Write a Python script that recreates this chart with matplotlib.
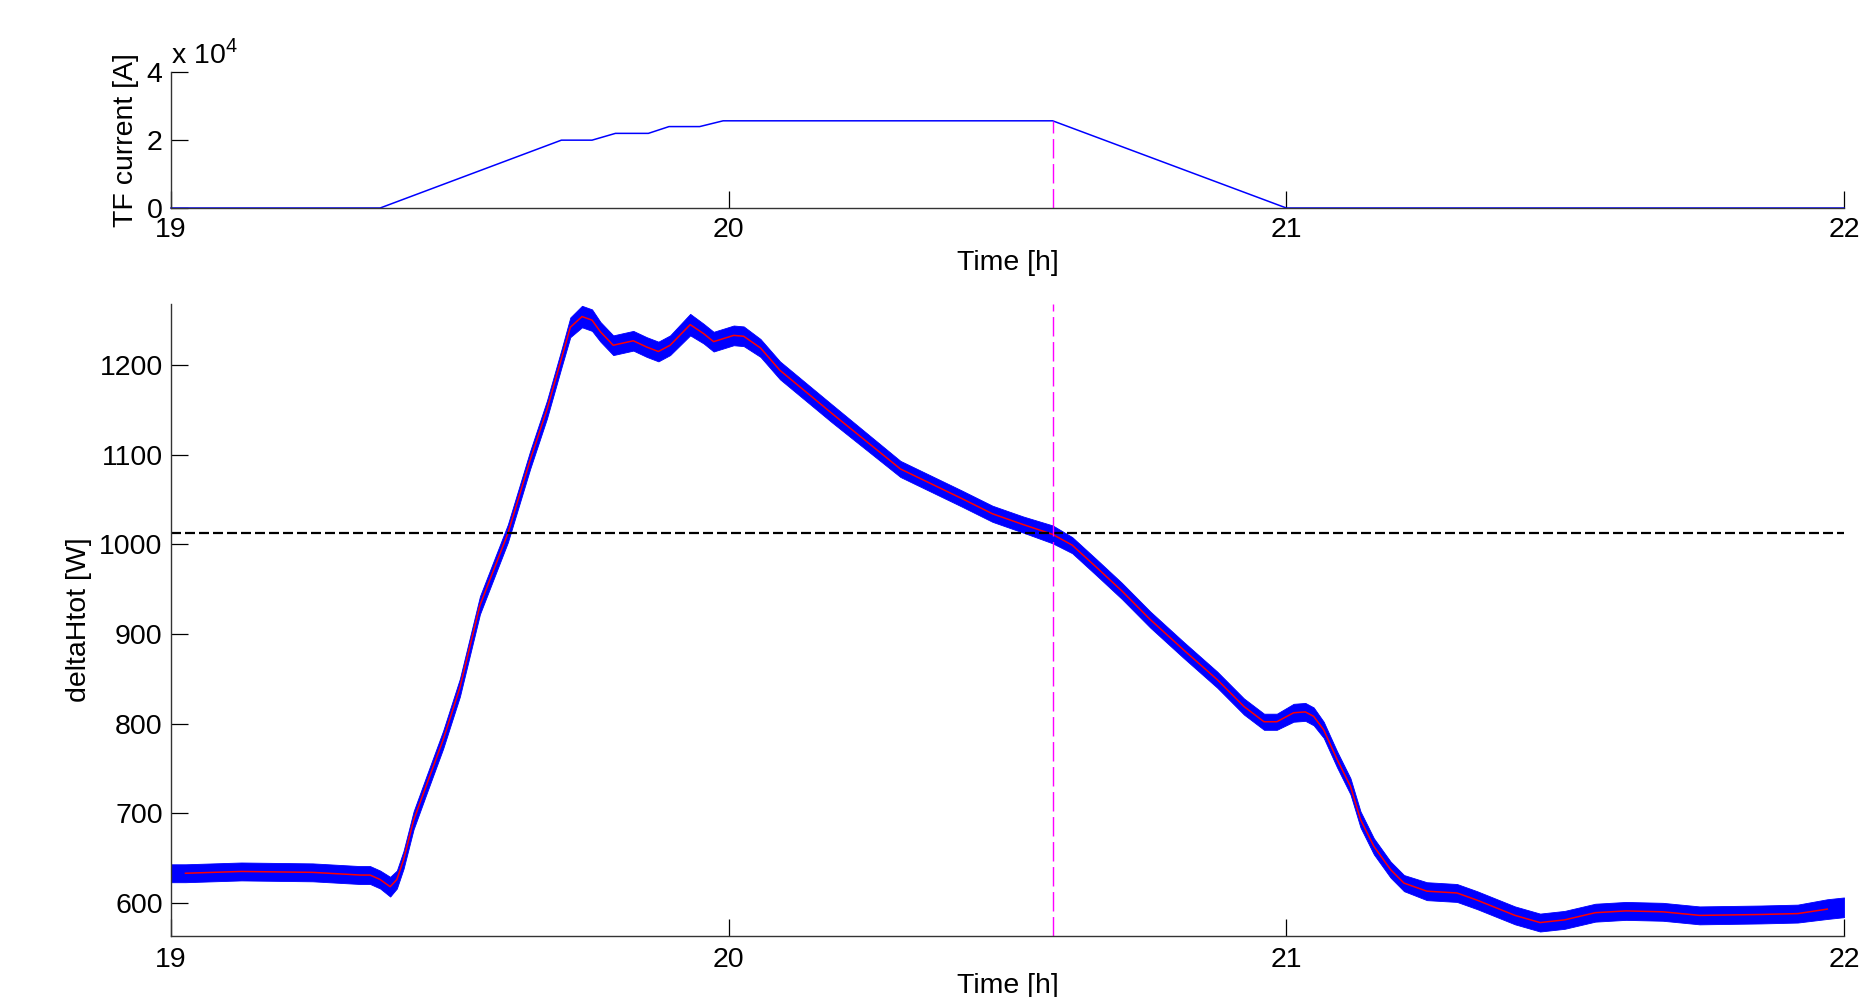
import matplotlib
matplotlib.use('Agg')
import matplotlib.pyplot as plt

plt.rcParams['font.family'] = ['Liberation Sans', 'DejaVu Sans']
plt.rcParams['mathtext.fontset'] = 'custom'
plt.rcParams['mathtext.rm'] = 'Liberation Sans'

# TF coil current (top panel)
tf_hours = [19.0, 19.375, 19.700, 19.755, 19.797, 19.856, 19.893, 19.948, 19.990, 20.581, 21.0, 22.0]
tf_current = [0, 0, 2.0e4, 2.0e4, 2.2e4, 2.2e4, 2.4e4, 2.4e4, 2.57e4, 2.57e4, 0, 0]

# deltaHtot (bottom panel): smoothed trace + noise half-width of raw trace
hours = [19.0, 19.026, 19.126, 19.254, 19.339, 19.357, 19.375, 19.393, 19.405, 19.417,
         19.435, 19.459, 19.488, 19.518, 19.554, 19.604, 19.644, 19.674, 19.701, 19.716,
         19.737, 19.755, 19.770, 19.793, 19.829, 19.853, 19.874, 19.895, 19.931, 19.955,
         19.973, 20.009, 20.027, 20.057, 20.092, 20.185, 20.308, 20.418, 20.473, 20.528,
         20.581, 20.616, 20.660, 20.705, 20.756, 20.816, 20.876, 20.924, 20.960, 20.983,
         21.013, 21.034, 21.049, 21.067, 21.091, 21.115, 21.133, 21.157, 21.187, 21.211,
         21.252, 21.306, 21.342, 21.378, 21.410, 21.455, 21.499, 21.554, 21.609, 21.675,
         21.741, 21.851, 21.917, 21.970, 22.0]
delta_h = [633, 633, 635, 634, 631, 631, 626, 618, 626, 648,
           692, 733, 782, 840, 932, 1012, 1094, 1150, 1209, 1242,
           1254, 1250, 1237, 1222, 1227, 1220, 1215, 1222, 1245, 1235,
           1226, 1233, 1232, 1219, 1194, 1146, 1084, 1051, 1034, 1022,
           1011, 999, 974, 948, 916, 882, 849, 819, 802, 802,
           812, 813, 808, 793, 760, 730, 693, 663, 637, 622,
           613, 611, 603, 594, 586, 578, 581, 589, 591, 590,
           586, 587, 588, 593, 595]
spread = [10, 10, 10, 10, 10, 10, 10, 11, 10, 10,
          10, 10, 10, 10, 10, 10, 10, 10, 10, 11,
          12, 12, 11, 11, 11, 11, 11, 11, 12, 11,
          11, 11, 11, 10, 10, 10, 9, 9, 9, 9,
          10, 9, 9, 9, 9, 9, 9, 9, 9, 9,
          10, 10, 10, 9, 9, 9, 9, 9, 9, 9,
          10, 10, 10, 10, 10, 10, 10, 10, 10, 10,
          10, 10, 10, 11, 11]

threshold = 1013
t_marker = 20.581

fs = 20.5
fig = plt.figure(figsize=(18.63, 9.97), dpi=100)
ax1 = fig.add_axes([0.09179, 0.79137, 0.89801, 0.13611])
ax2 = fig.add_axes([0.09179, 0.06118, 0.89801, 0.63390])

for ax in (ax1, ax2):
    for s in ('top', 'right'):
        ax.spines[s].set_visible(False)
    for s in ('left', 'bottom'):
        ax.spines[s].set_linewidth(1.0)
        ax.spines[s].set_color('#333333')
    ax.tick_params(direction='in', length=12, width=0.9, labelsize=fs, pad=6)
    ax.set_xlim(19, 22)
    ax.set_xticks([19, 20, 21, 22])

# top panel
ax1.plot(tf_hours, tf_current, color='#0000ff', lw=1.1, clip_on=False)
ax1.plot([t_marker, t_marker], [0, tf_current[9]], color='#ff00ff', lw=1.0, dashes=(14, 4))
ax1.set_ylim(0, 4e4)
ax1.set_yticks([0, 2e4, 4e4])
ax1.set_yticklabels(['0', '2', '4'])
ax1.tick_params(axis='x', pad=6.5)
ax1.text(0.0, 1.07, 'x 10$^{\\mathregular{4}}$', transform=ax1.transAxes,
         fontsize=fs, ha='left', va='baseline')
ax1.set_xlabel('Time [h]', fontsize=fs, labelpad=5)
ax1.set_ylabel('TF current [A]', fontsize=fs, labelpad=5.5)

# bottom panel
lo = [v - s for v, s in zip(delta_h, spread)]
hi = [v + s for v, s in zip(delta_h, spread)]
ax2.fill_between(hours, lo, hi, color='#0000ff', lw=0.6, edgecolor='#0000ff')
ax2.plot(hours[1:-1], delta_h[1:-1], color='#ff0000', lw=1.1)
ax2.axhline(threshold, color='black', lw=1.6, dashes=(4.5, 1.8))
ax2.axvline(t_marker, color='#ff00ff', lw=1.0, dashes=(14, 4))
ax2.set_ylim(563, 1268)
ax2.set_yticks([600, 700, 800, 900, 1000, 1100, 1200])
ax2.tick_params(axis='x', pad=8)
ax2.set_xlabel('Time [h]', fontsize=fs, labelpad=0)
ax2.set_ylabel('deltaHtot [W]', fontsize=fs, labelpad=5)

fig.savefig('out.png', dpi=100)
